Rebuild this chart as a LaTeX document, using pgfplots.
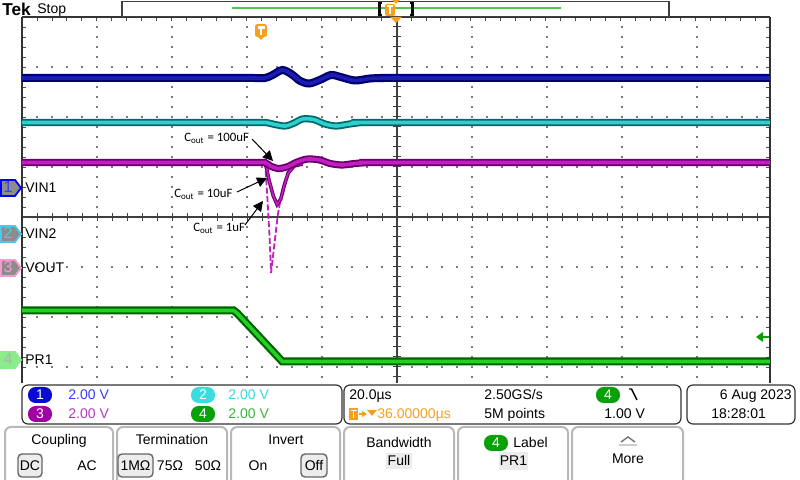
\documentclass[border=0pt]{standalone}
\usepackage{pgfplots}
\pgfplotsset{compat=1.18}
\usepackage{fontspec}
\setmainfont{Liberation Sans}
\newfontfamily\calib{Carlito}
\usetikzlibrary{arrows.meta}
\definecolor{bdark}{HTML}{00006E}
\definecolor{bmid}{HTML}{1C1CB4}
\definecolor{cdark}{HTML}{006A6A}
\definecolor{cmid}{HTML}{2ECFCF}
\definecolor{mdark}{HTML}{6A006A}
\definecolor{mmid}{HTML}{C21FC2}
\definecolor{gdark}{HTML}{006400}
\definecolor{gmid}{HTML}{24D024}
\definecolor{tekorange}{HTML}{F7A11A}
\definecolor{gridc}{HTML}{7A7A7A}
\definecolor{btnborder}{HTML}{B8B8B8}
\definecolor{selfill}{HTML}{ECECEC}
\definecolor{rblue}{HTML}{3C3CF0}
\definecolor{rcyan}{HTML}{3CD8D8}
\definecolor{rmag}{HTML}{B43CB4}
\definecolor{rgreen}{HTML}{3CB43C}
\definecolor{bblue}{HTML}{0A0AD8}
\definecolor{bcyan}{HTML}{3CDCDC}
\definecolor{bmag}{HTML}{A000A0}
\definecolor{bgreen}{HTML}{0AA00A}
\newcommand\ui{\fontsize{7}{8.4}\selectfont}
\newcommand\badge[4]{\fill[#3,rounded corners=3.8pt] (#1-12,#2-8) rectangle (#1+12,#2+8);
  \node[txt,white] at (#1,#2) {#4};}
\newcommand\chtag[5]{\filldraw[fill=#2,draw=#3,line width=0.9pt] (1,#1-8) -- (15,#1-8) -- (21,#1) -- (15,#1+8) -- (1,#1+8) -- cycle;
  \node[txt,#4,font=\fontsize{8}{9}\selectfont] at (8,#1) {#5};}
\begin{document}
\begin{tikzpicture}[x=0.5pt,y=-0.5pt,
  txt/.style={inner sep=0pt,text height=5pt,text depth=0pt,font=\ui}]
\useasboundingbox (0,0) rectangle (800,480);
\fill[white] (0,0) rectangle (800,480);
% ---------- graticule ----------
\foreach \i in {1,...,9} \draw[gridc, line width=1pt, dash pattern=on 1pt off 4pt] ({22+75*\i},16) -- ({22+75*\i},383);
\foreach \j in {1,...,7} \draw[gridc, line width=1pt, dash pattern=on 1pt off 6.5pt] (21,{17+50*\j}) -- (770,{17+50*\j});
\draw[black!75, line width=0.6pt] (22,217) -- (770,217) (397,17) -- (397,383);
\foreach \k in {0,...,49} \draw[black!75, line width=0.5pt] ({22+15*\k},213) -- ({22+15*\k},221);
\foreach \k in {0,...,36} \draw[black!75, line width=0.5pt] (393,{17+10*\k}) -- (401,{17+10*\k});
% ---------- traces ----------
\begin{axis}[at={(11pt,-8.5pt)}, anchor=north west, scale only axis,
  width=374pt, height=183pt, xmin=-5, xmax=5, ymin=-3.32, ymax=4,
  axis x line*=top, axis y line*=box,
  x axis line style={-}, y axis line style={-},
  axis line style={draw=black!80, line width=0.7pt},
  xtick={-5,...,5}, ytick={-3,...,4}, minor x tick num=4, minor y tick num=4,
  xticklabels={}, yticklabels={}, tick align=inside,
  major tick length=2.2pt, minor tick length=2.2pt,
  tick style={black!70, line width=0.4pt}, clip=true]
% VIN1
\addplot[bdark, line width=4pt, smooth, tension=0.5] table {
-5 2.78
-2.2 2.78
-1.9 2.78
-1.75 2.78
-1.65 2.84
-1.52 2.94
-1.40 2.86
-1.28 2.72
-1.16 2.67
-1.02 2.74
-0.87 2.84
-0.74 2.80
-0.55 2.73
-0.35 2.77
-0.15 2.78
0.2 2.78
5 2.78
};
\addplot[bmid, line width=1.8pt, smooth, tension=0.5] table {
-5 2.78
-2.2 2.78
-1.9 2.78
-1.75 2.78
-1.65 2.84
-1.52 2.94
-1.40 2.86
-1.28 2.72
-1.16 2.67
-1.02 2.74
-0.87 2.84
-0.74 2.80
-0.55 2.73
-0.35 2.77
-0.15 2.78
0.2 2.78
5 2.78
};
% VIN2
\addplot[cdark, line width=3.6pt, smooth, tension=0.5] table {
-5 1.89
-2.0 1.89
-1.75 1.89
-1.62 1.85
-1.48 1.82
-1.36 1.88
-1.25 1.96
-1.10 1.95
-0.95 1.86
-0.80 1.82
-0.62 1.86
-0.45 1.89
-0.2 1.89
5 1.89
};
\addplot[cmid, line width=1.8pt, smooth, tension=0.5] table {
-5 1.89
-2.0 1.89
-1.75 1.89
-1.62 1.85
-1.48 1.82
-1.36 1.88
-1.25 1.96
-1.10 1.95
-0.95 1.86
-0.80 1.82
-0.62 1.86
-0.45 1.89
-0.2 1.89
5 1.89
};
% VOUT, Cout = 1uF
\addplot[mmid, line width=0.9pt, dash pattern=on 3pt off 1.2pt] table {
-1.75 1.09
-1.72 0.40
-1.69 -0.40
-1.67 -1.12
-1.63 -0.60
-1.58 0.04
-1.52 0.55
-1.45 0.90
-1.35 1.04
};
% VOUT, Cout = 10uF
\addplot[mdark, line width=1.8pt] table {
-1.80 1.09
-1.74 1.05
-1.70 0.75
-1.64 0.42
-1.59 0.25
-1.54 0.36
-1.49 0.65
-1.44 0.88
-1.36 1.02
-1.25 1.06
};
\addplot[mmid, line width=0.8pt] table {
-1.80 1.09
-1.74 1.05
-1.70 0.75
-1.64 0.42
-1.59 0.25
-1.54 0.36
-1.49 0.65
-1.44 0.88
-1.36 1.02
-1.25 1.06
};
% VOUT, Cout = 100uF
\addplot[mdark, line width=3.6pt, smooth, tension=0.5] table {
-5 1.09
-2.0 1.09
-1.76 1.09
-1.68 1.02
-1.58 0.97
-1.46 1.00
-1.32 1.10
-1.18 1.16
-1.02 1.14
-0.88 1.07
-0.72 1.04
-0.55 1.07
-0.35 1.09
-0.1 1.09
5 1.09
};
\addplot[mmid, line width=1.8pt, smooth, tension=0.5] table {
-5 1.09
-2.0 1.09
-1.76 1.09
-1.68 1.02
-1.58 0.97
-1.46 1.00
-1.32 1.10
-1.18 1.16
-1.02 1.14
-0.88 1.07
-0.72 1.04
-0.55 1.07
-0.35 1.09
-0.1 1.09
5 1.09
};
% PR1
\addplot[gdark, line width=4pt] table {
-5 -1.87
-2.17 -1.87
-2.12 -1.93
-1.52 -2.89
5 -2.89
};
\addplot[gmid, line width=1.8pt] table {
-5 -1.87
-2.17 -1.87
-2.12 -1.93
-1.52 -2.89
5 -2.89
};
\end{axis}
% ---------- annotations ----------
\begin{scope}[font=\calib\fontsize{6.4}{7}\selectfont]
\node[anchor=west, inner sep=0pt] at (184,138) {C\textsubscript{out} = 100uF};
\node[anchor=west, inner sep=0pt] at (174,194) {C\textsubscript{out} = 10uF};
\node[anchor=west, inner sep=0pt] at (193,228) {C\textsubscript{out} = 1uF};
\end{scope}
\draw[black, line width=0.5pt, -{Triangle[length=5pt,width=5pt]}] (252,139) -- (273,161);
\draw[black, line width=0.5pt, -{Triangle[length=5pt,width=5pt]}] (237,192) -- (267,178);
\draw[black, line width=0.5pt, -{Triangle[length=5pt,width=5pt]}] (245,225) -- (263,201);
% trigger position marker in the plot
\fill[tekorange, rounded corners=1.2pt] (255,24) rectangle (267,37);
\fill[tekorange] (257,36) -- (265,36) -- (261,40) -- cycle;
\draw[white, line width=1.1pt] (257.5,27.5) -- (264.5,27.5) (261,27.5) -- (261,35);
% trigger level arrow
\fill[bgreen] (756,337) -- (763,332) -- (763,342) -- cycle;
\draw[bgreen, line width=1pt] (761,337) -- (769,337);
% ---------- channel tags ----------
\chtag{188}{gray!90}{blue}{rblue}{1}
\chtag{234}{gray!90}{cyan!70!white}{rcyan}{2}
\chtag{268}{gray!90}{magenta!40!white}{magenta!40!white}{3}
\chtag{360}{green!45!white!85!gray}{green!45!white!85!gray}{gray!60}{4}
\node[txt, anchor=west] at (25,188) {VIN1};
\node[txt, anchor=west] at (25,234) {VIN2};
\node[txt, anchor=west] at (25,268) {VOUT};
\node[txt, anchor=west] at (25,360) {PR1};
% ---------- top bar ----------
\node[inner sep=0pt, anchor=west, text height=6.3pt, text depth=0pt, font=\fontsize{8.6}{9}\selectfont\bfseries] at (2,9) {Tek};
\node[txt, anchor=west] at (37,9) {Stop};
\draw[black!75, line width=0.7pt] (122,1.5) rectangle (669,16.5);
\draw[green!70!black!70!white, line width=1.4pt] (232,8) -- (561,8);
\draw[black, line width=1.2pt] (382,3) -- (379.5,3) -- (379.5,15) -- (382,15);
\draw[black, line width=1.2pt] (410,3) -- (412.5,3) -- (412.5,15) -- (410,15);
\fill[tekorange, rounded corners=1pt] (385,4) rectangle (395,16);
\draw[white, line width=1pt] (387,6.5) -- (393,6.5) (390,6.5) -- (390,14);
\fill[tekorange] (392,0) -- (400,0) -- (396,4) -- cycle;
\fill[tekorange] (390,17) -- (402,17) -- (396,23) -- cycle;
% ---------- readout panels ----------
\draw[black!80, fill=white, rounded corners=3pt, line width=0.6pt] (22,385) rectangle (342,424);
\draw[black!80, fill=white, rounded corners=3pt, line width=0.6pt] (344,385) rectangle (681,424);
\draw[black!80, fill=white, rounded corners=3pt, line width=0.6pt] (687,385) rectangle (795,424);
\badge{40}{395}{bblue}{1}
\badge{203}{395}{bcyan}{2}
\badge{40}{414}{bmag}{3}
\badge{203}{414}{bgreen}{4}
\node[txt, anchor=west, rblue] at (68,395) {2.00 V};
\node[txt, anchor=west, rcyan] at (228,395) {2.00 V};
\node[txt, anchor=west, rmag] at (68,414) {2.00 V};
\node[txt, anchor=west, rgreen] at (228,414) {2.00 V};
\node[txt, anchor=west] at (349,395) {20.0µs};
\fill[tekorange] (349,408) rectangle (358,420);
\draw[white, line width=0.9pt] (350.5,410.5) -- (356.5,410.5) (353.5,410.5) -- (353.5,418.5);
\draw[tekorange, line width=0.8pt, -{Triangle[length=2.5pt,width=3pt]}] (359,414) -- (367,414);
\fill[tekorange] (367,410) -- (377,410) -- (372,416) -- cycle;
\node[txt, anchor=west, tekorange] at (377,414) {36.00000µs};
\node[txt, anchor=west] at (484,395) {2.50GS/s};
\node[txt, anchor=west] at (484,414) {5M points};
\badge{608}{395}{bgreen}{4}
\draw[black, line width=0.7pt] (629,389) -- (631.5,389) -- (637,400);
\node[txt, anchor=west] at (604,414) {1.00 V};
\node[txt, anchor=east] at (792,395) {6 Aug 2023};
\node[txt, anchor=west] at (711,414) {18:28:01};
% ---------- soft buttons ----------
\foreach \a/\b in {5/113, 117/227, 231/340, 344/454, 458/568, 572/683}
  \draw[btnborder, fill=white, rounded corners=3pt, line width=1pt] (\a,427) rectangle (\b,485);
\node[txt] at (59,440) {Coupling};
\draw[black!60, fill=selfill, rounded corners=2pt, line width=0.7pt] (18,454) rectangle (42,477);
\node[txt] at (30,466) {DC};
\node[txt] at (87,466) {AC};
\node[txt] at (172,440) {Termination};
\draw[black!60, fill=selfill, rounded corners=2pt, line width=0.7pt] (118,454) rectangle (153,477);
\node[txt] at (135.5,466) {1MΩ};
\node[txt] at (170,466) {75Ω};
\node[txt] at (208,466) {50Ω};
\node[txt] at (286,440) {Invert};
\node[txt] at (258,466) {On};
\draw[black!60, fill=selfill, rounded corners=2pt, line width=0.7pt] (301,454) rectangle (327,477);
\node[txt] at (314,466) {Off};
\node[txt] at (399,443) {Bandwidth};
\fill[selfill] (386,453) rectangle (412,469);
\node[txt] at (399,461) {Full};
\badge{496}{443}{bgreen}{4}
\node[txt, anchor=west] at (513,443) {Label};
\fill[selfill] (499,452) rectangle (528,470);
\node[txt] at (513.5,461) {PR1};
\draw[black!55, line width=0.7pt] (621,442) -- (628,437) -- (635,442);
\draw[black!20, line width=1pt] (619,445) -- (637,445);
\node[txt] at (628,459) {More};
\end{tikzpicture}
\end{document}
